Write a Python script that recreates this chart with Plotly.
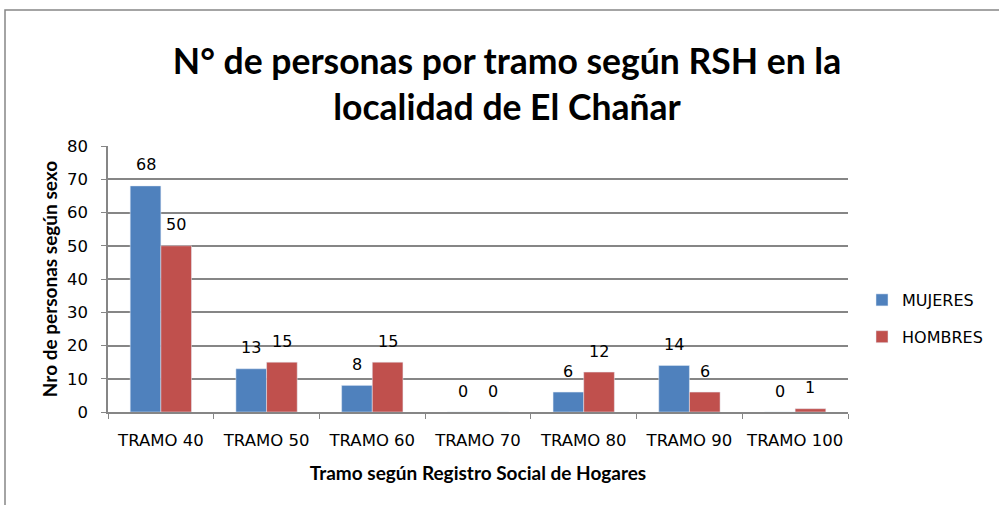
import plotly.graph_objects as go

categories = ["TRAMO 40", "TRAMO 50", "TRAMO 60", "TRAMO 70", "TRAMO 80", "TRAMO 90", "TRAMO 100"]
mujeres = [68, 13, 8, 0, 6, 14, 0]
hombres = [50, 15, 15, 0, 12, 6, 1]

W, H = 999, 505
L, R, T, B = 108, 151, 146, 93
pw, ph = W - L - R, H - T - B

def px(x):
    return (x - L) / pw

def py(y):
    return (H - B - y) / ph

BLUE, RED = "#4F81BD", "#C0504D"
tick_font = dict(family="DejaVu Sans", size=16.5, color="#000000")
lab_font = dict(family="DejaVu Sans", size=16, color="#000000")
bold_font = dict(family="Lato", size=19, color="#000000", weight="bold")

fig = go.Figure()
fig.add_trace(go.Bar(name="MUJERES", x=categories, y=mujeres, marker_color=BLUE,
                     legendgroup="m"))
fig.add_trace(go.Bar(name="HOMBRES", x=categories, y=hombres, marker_color=RED,
                     legendgroup="h"))

bar_w = pw / len(categories) * (1 - 0.42) / 2
for cat, v in zip(categories, mujeres):
    fig.add_annotation(x=cat, y=v, xref="x", yref="y", text=str(v), showarrow=False,
                       xshift=-bar_w / 2, yshift=21, yanchor="middle", font=lab_font)
for cat, v in zip(categories, hombres):
    fig.add_annotation(x=cat, y=v, xref="x", yref="y", text=str(v), showarrow=False,
                       xshift=bar_w / 2, yshift=21, yanchor="middle", font=lab_font)

fig.update_layout(
    width=W, height=H,
    margin=dict(l=L, r=R, t=T, b=B, autoexpand=False),
    paper_bgcolor="white", plot_bgcolor="white",
    barmode="group", bargap=0.42, bargroupgap=0,
    title=dict(text="N° de personas por tramo según RSH en la<br>localidad de El Chañar",
               x=507 / W, xanchor="center", y=1 - 74 / H, yanchor="middle",
               font=dict(family="Lato", size=35.5, color="#000000", weight="bold")),
    legend=dict(xref="container", yref="container", x=862 / W, y=1 - 283 / H,
                xanchor="left", yanchor="top",
                font=dict(family="DejaVu Sans", size=16, color="#000000"),
                itemwidth=30, tracegroupgap=13, traceorder="grouped",
                bgcolor="rgba(0,0,0,0)"),
    showlegend=True,
)
fig.update_xaxes(showgrid=False, showline=True, linecolor="#868686", linewidth=1.5,
                 ticks="outside", tickson="boundaries", tickcolor="#868686", ticklen=5,
                 tickangle=0, ticklabelstandoff=12, tickfont=tick_font,
                 title=dict(text="Tramo según Registro Social de Hogares",
                            font=bold_font, standoff=18))
fig.update_yaxes(range=[0, 80], dtick=10, showgrid=True, gridcolor="#868686", gridwidth=1.5,
                 showline=True, linecolor="#868686", linewidth=1.5, zeroline=False,
                 ticks="outside", tickcolor="#868686", ticklen=5,
                 ticklabelstandoff=10, tickfont=tick_font,
                 title=dict(text="Nro de personas según sexo", font=bold_font, standoff=4))

fig.add_shape(type="rect", xref="paper", yref="paper",
              x0=px(5), x1=px(1010), y0=py(520), y1=py(10),
              line=dict(color="#868686", width=1.5), fillcolor="rgba(0,0,0,0)", layer="below")

fig.write_html("out.html", config={"displayModeBar": False},
               post_script="document.body.style.margin='0';")
